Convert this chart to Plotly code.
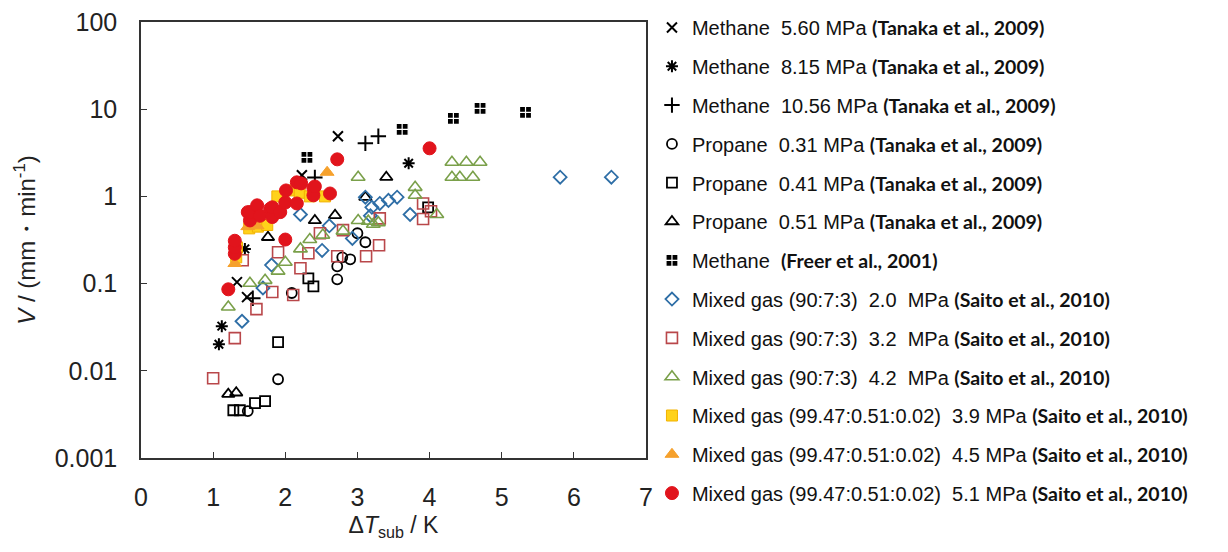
import plotly.graph_objects as go

# ---------------- data ----------------
m560_x = [1.33, 1.47, 2.23, 2.73]
m560_y = [0.104, 0.07, 1.75, 4.9]

m815_x = [1.08, 1.12, 1.44, 3.71]
m815_y = [0.0202, 0.0325, 0.25, 2.4]

m1056_x = [1.55, 2.41, 3.11, 3.29]
m1056_y = [0.068, 1.65, 4.06, 4.9]

p031_x = [1.48, 1.90, 2.09, 2.72, 2.72, 2.79, 2.90, 3.00, 3.11]
p031_y = [0.00345, 0.008, 0.078, 0.112, 0.158, 0.2, 0.19, 0.378, 0.298]

p041_x = [1.28, 1.37, 1.58, 1.72, 1.90, 2.32, 2.39, 3.98]
p041_y = [0.00353, 0.00353, 0.00427, 0.0045, 0.0213, 0.115, 0.093, 0.75]

p051_x = [1.21, 1.32, 1.76, 2.41, 2.69, 3.11, 3.40]
p051_y = [0.0054, 0.0056, 0.34, 0.53, 0.607, 0.98, 1.66]

freer_x = [2.30, 3.62, 4.33, 4.70, 5.33]
freer_y = [2.8, 5.87, 7.85, 10.2, 9.2]

mg20_x = [1.40, 1.69, 1.81, 2.21, 2.51, 2.61, 2.93, 3.11, 3.18, 3.20, 3.31, 3.43, 3.55, 3.73, 5.81, 6.52]
mg20_y = [0.037, 0.089, 0.163, 0.62, 0.24, 0.46, 0.33, 0.98, 0.6, 0.75, 0.83, 0.9, 0.98, 0.62, 1.66, 1.66]

mg32_x = [1.00, 1.30, 1.41, 1.60, 1.82, 1.90, 2.11, 2.21, 2.32, 2.48, 2.72, 2.80, 3.12, 3.30, 3.31, 3.91, 3.91, 4.02]
mg32_y = [0.0082, 0.0237, 0.185, 0.051, 0.08, 0.229, 0.074, 0.15, 0.223, 0.378, 0.206, 0.41, 0.206, 0.275, 0.56, 0.83, 0.55, 0.675]

mg42_x = [1.21, 1.51, 1.72, 1.90, 2.00, 2.21, 2.34, 2.52, 2.80, 3.01, 3.01, 3.15, 3.22, 3.29,
          3.80, 3.80, 4.10, 4.31, 4.51, 4.70, 4.31, 4.42, 4.60]
mg42_y = [0.054, 0.101, 0.109, 0.139, 0.176, 0.25, 0.32, 0.36, 0.4, 0.53, 1.66, 0.52, 0.48, 0.5,
          1.27, 1.03, 0.62, 2.46, 2.46, 2.46, 1.66, 1.66, 1.66]

mg39_x = [1.32, 1.33, 1.50, 1.62, 1.75, 1.89, 2.07, 2.20, 2.34, 2.55]
mg39_y = [0.2, 0.26, 0.43, 0.45, 0.47, 1.0, 1.17, 1.1, 1.0, 1.0]

mg45_x = [1.30, 1.48, 1.61, 2.58]
mg45_y = [0.17, 0.45, 0.46, 1.89]

mg51_x = [1.21, 1.30, 1.30, 1.30, 1.48, 1.51, 1.51, 1.61, 1.65, 1.79, 1.82, 1.82, 1.93,
          2.00, 2.00, 2.01, 2.16, 2.16, 2.22, 2.39, 2.39, 2.41, 2.62, 2.72, 4.00]
mg51_y = [0.086, 0.22, 0.26, 0.31, 0.66, 0.53, 0.66, 0.79, 0.6, 0.72, 0.58, 0.75, 0.66,
          0.32, 0.85, 1.17, 0.83, 1.45, 1.41, 1.24, 1.03, 1.3, 1.08, 2.66, 3.56]

y_tickvals = [0.001, 0.01, 0.1, 1, 10, 100]
y_ticktext = ["0.001", "0.01", "0.1", "1", "10", "100"]

CIT = "<span style='font-family:Lato;font-weight:bold;font-size:19.5px'>{}</span>"
tanaka = CIT.format("(Tanaka et al., 2009)")
freer = CIT.format("(Freer et al., 2001)")
saito = CIT.format("(Saito et al., 2010)")

series = [
    ("Methane  5.60 MPa " + tanaka, m560_x, m560_y, "x-thin-open", 10, "black", "black", 2),
    ("Methane  8.15 MPa " + tanaka, m815_x, m815_y, "asterisk-open", 10, "black", "black", 2),
    ("Methane  10.56 MPa " + tanaka, m1056_x, m1056_y, "cross-thin-open", 11, "black", "black", 2),
    ("Propane  0.31 MPa " + tanaka, p031_x, p031_y, "circle-open", 10, "black", "black", 1.8),
    ("Propane  0.41 MPa " + tanaka, p041_x, p041_y, "square-open", 10, "black", "black", 1.8),
    ("Propane  0.51 MPa " + tanaka, p051_x, p051_y, "triangle-up-open", 11, "black", "black", 1.8),
    ("Methane  " + freer, freer_x, freer_y, "square-cross", 12, "black", "white", 1.2),
    ("Mixed gas (90:7:3)  2.0  MPa " + saito, mg20_x, mg20_y, "diamond-open", 10, "#2E6EA6", "#2E6EA6", 1.8),
    ("Mixed gas (90:7:3)  3.2  MPa " + saito, mg32_x, mg32_y, "square-open", 11, "#B9474A", "#B9474A", 1.6),
    ("Mixed gas (90:7:3)  4.2  MPa " + saito, mg42_x, mg42_y, "triangle-up-open", 12, "#7AA04A", "#7AA04A", 1.6),
    ("Mixed gas (99.47:0.51:0.02)  3.9 MPa " + saito, mg39_x, mg39_y, "square", 11, "#FFD21A", "#F2B200", 1),
    ("Mixed gas (99.47:0.51:0.02)  4.5 MPa " + saito, mg45_x, mg45_y, "triangle-up", 12, "#F6A12C", "#F6A12C", 1),
    ("Mixed gas (99.47:0.51:0.02)  5.1 MPa " + saito, mg51_x, mg51_y, "circle", 13, "#E1141C", "#E1141C", 1),
]

fig = go.Figure()
for i, (name, xs, ys, sym, size, col, lcol, lw) in enumerate(series):
    fig.add_trace(go.Scatter(
        x=xs, y=ys, mode="markers", name=name, legendgroup=f"g{i}",
        marker=dict(symbol=sym, size=size, color=col, line=dict(color=lcol, width=lw)),
    ))

FONT = "Liberation Sans, Arial, sans-serif"
axis_common = dict(
    showgrid=False, zeroline=False, showline=True, linecolor="#333333", linewidth=1.5,
    mirror=True, ticks="inside", ticklen=6, tickwidth=1.3, tickcolor="#333333",
    tickfont=dict(family=FONT, size=25, color="#222222"),
    ticklabeloverflow="allow",
)

fig.update_xaxes(
    range=[0, 7], dtick=1, tick0=0, ticklabelstandoff=16,
    title=dict(text="Δ<i>T</i><sub>sub</sub> / K", standoff=7,
               font=dict(family=FONT, size=23, color="#222222")),
    **axis_common,
)
fig.update_yaxes(
    type="log", range=[-3, 2], tickvals=y_tickvals, ticktext=y_ticktext, ticklabelstandoff=17,
    title=dict(text="<i>V</i> / (mm・min<sup>-1</sup>)", standoff=12,
               font=dict(family=FONT, size=24, color="#222222")),
    **axis_common,
)

fig.update_layout(
    width=1228, height=552,
    margin=dict(l=133, r=590, t=14, b=102, autoexpand=False),
    paper_bgcolor="white", plot_bgcolor="white",
    showlegend=True,
    legend=dict(
        xref="container", x=0.5244, xanchor="left",
        yref="container", y=1.0, yanchor="top",
        font=dict(family=FONT, size=20, color="#111111"),
        tracegroupgap=9.8, itemwidth=30, bgcolor="rgba(0,0,0,0)",
        maxheight=560,
    ),
)

fig.write_html("out.html")
